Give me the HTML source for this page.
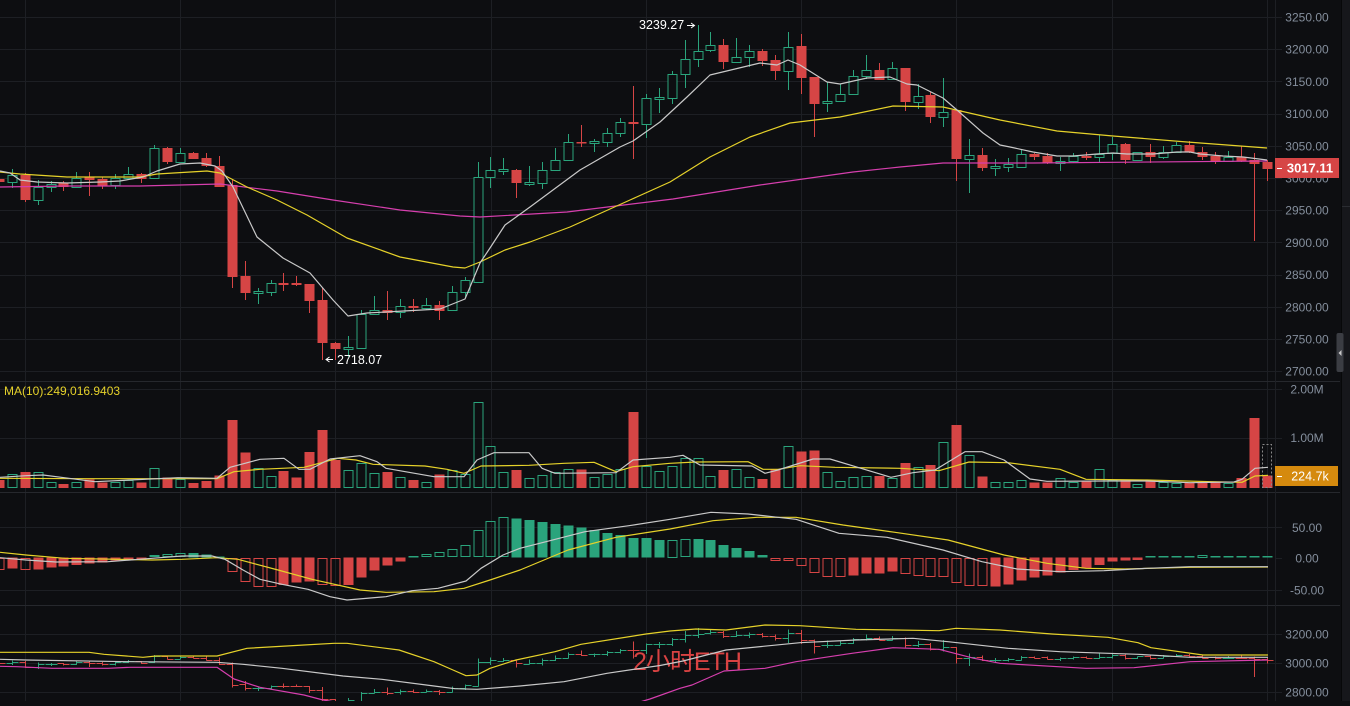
<!DOCTYPE html>
<html><head><meta charset="utf-8">
<style>
html,body{margin:0;padding:0;background:#0d0e11;width:1350px;height:701px;overflow:hidden}
#c{position:absolute;left:0;top:0;width:1350px;height:701px}
</style></head>
<body><div id="c"></div>
<script>
const S=12.94, X0=11.7, G='#2aa47c', R='#d64545', BG='#0d0e11', GRID='#1d1f24', AX='#848e9c';
const K=[
[0,179,182,177,184],[1,175,181.7,169,188],[0,175,200,173,202],[1,187,200,180,205],[1,184,187,181,192],
[0,183,187,181,191],[1,178,187,172,188],[0,177,180,172,196],[0,179,186,177,189],[1,178,185,174,189],
[1,174,178,167,180],[0,174,179,173,183],[1,148,178,145,179],[0,148,162,147,164],[1,153,162,148,162],
[0,153,159,152,159],[0,158,166,153,167],[0,166,187,156,187],[0,185,277,179,288],[0,276,293,261,300],
[1,291,292.5,288,304],[1,283,292,280,296],[0,283,285,273,291],[0,283,285,276,286],[0,284,301,284,313],
[0,300,343,288,360],[0,343,349,342,360],[1,347,349,336,357],[1,314,348,310,348],[1,310,314,296,314],
[0,310,313,291,320],[1,306,312,299,318],[0,306,308,299,312],[1,305,308,298,310],[0,305,311,301,320],
[1,292,310,286,310],[1,280,292,277,298],[1,177,282,162,283],[1,170,177,157,188],[1,169,170.5,158,175],
[0,170,183,169,198],[1,182,184,166,186],[1,170,183,162,189],[1,160,170,148,170],[1,142,160,134,160],
[0,142,143.5,125,147],[1,141,143,139,152],[1,133,142,128,147],[1,122,133,118,137],[0,122,124,86,159],
[1,98,124,94,138],[1,97,99,88,113],[1,74,98,71,104],[1,59,74,40,88],[1,51,59,25,67],
[1,45,50,32,52],[0,45,62,39,69],[1,57,62,38,63],[1,51,57,45,67],[0,51,61,49,66],
[0,60,71,55,80],[1,47,71,32,90],[0,46,78,34,94],[0,77,104,77,137],[1,101,103,82,112],
[1,94,101,84,101],[1,76,94,70,94],[1,70,76,55,79],[0,70,80,63,80],[1,68,79,62,79],
[0,68,102,68,111],[1,96,102,84,109],[0,95,117,92,123],[1,112,117,78,127],[0,110,159,110,181],
[1,155,159,139,193],[0,155,168,148,171],[1,166,167.5,159,176],[1,164,167,158,172],[1,154,167,150,168],
[0,154,157,153,160],[0,156,163,153,164],[1,161,163,157,171],[1,156,161,153,163],[0,156,158,152,160],
[1,154,157,135,162],[1,144,153,137,160],[0,144,160,143,164],[1,152,160,152,161],[0,152,157,144,163],
[1,152,157,146,159],[1,145,152,142,153],[0,145,152,141,153],[0,152,157,147,160],[0,156,161,152,164],
[1,157,161,151,161],[0,157,161,146,162],[0,160,164,153,241],[0,162,169,160,181]
];
const V=[480,474.3,472,472.3,482.3,484,482.3,479.3,482.3,482.3,480,482.3,468.3,477.7,479.3,483,481,475.3,420,452.7,468.3,476.3,471,477.3,452,430,460,470,463.3,473.3,472,476.7,480,481.7,474.3,470,474.3,402.3,446.3,472.3,470,478.3,475.3,471.7,469.3,469.3,477.3,474.3,469.3,412,466,471,466,458.3,458.3,476.3,470,469.3,477.3,479,469.3,446.3,451.7,450.3,472.3,481,477.3,476.3,476,478.3,463,467.3,465,442.3,425,455.3,476.3,482.3,482.3,480,482.7,482.3,478.3,482.3,481.7,469.3,480,480,484.3,480,482.3,483,482.3,482.3,482.3,483,478,418,475.7];
const M=[[569.3,1],[568.7,0],[569.3,1],[569.7,0],[567.7,0],[566.7,0],[565,0],[563.3,0],[562.3,0],[560.7,0],[560.7,0],[560,0],[555.3,1],[554.3,1],[553.3,1],[553,0],[554.3,0],[556.5,0],[571.7,1],[581.3,1],[586.7,1],[586.7,1],[585,0],[582.7,0],[581.7,0],[584.7,1],[586,1],[585,0],[577.7,0],[570.7,0],[565.7,0],[561.7,0],[556,0],[554.3,1],[552.3,1],[549.3,1],[545.3,1],[530.3,1],[521.3,1],[517.3,1],[518.3,0],[520,0],[522,0],[524,0],[525.3,0],[527.3,0],[530,0],[533,0],[535,0],[538,0],[538,0],[540,0],[540,1],[539.3,1],[539,0],[540,0],[545,0],[548,0],[551,0],[555,0],[560.3,1],[560.3,1],[565.3,1],[572.3,1],[576.3,1],[577,1],[575.7,0],[573.7,0],[573.3,0],[571.7,0],[574,1],[576,1],[577,1],[577,1],[583,1],[585.3,1],[586,1],[586.7,0],[584.7,0],[580.3,0],[577.7,0],[575.7,0],[572.7,0],[570,0],[568.3,0],[565,0],[561.7,0],[560.7,0],[560,0],[556,0],[555.8,0],[555.8,0],[555.8,0],[555,1],[555.8,0],[555.8,0],[555.8,0],[555.8,0],[556,0]];

function L(x1,y1,x2,y2,c,w,extra){return `<line x1="${x1}" y1="${y1}" x2="${x2}" y2="${y2}" stroke="${c}" stroke-width="${w||1}" ${extra||''}/>`;}
function P(pts,c,w){return `<polyline points="${pts}" fill="none" stroke="${c}" stroke-width="${w||1}" stroke-linejoin="round"/>`;}
function T(x,y,t,c,sz,anchor,weight){return `<text x="${x}" y="${y}" fill="${c}" font-size="${sz||12}" text-anchor="${anchor||'middle'}" font-weight="${weight||'normal'}">${t}</text>`;}

let s='<svg width="1350" height="701" viewBox="0 0 1350 701" font-family="Liberation Sans, sans-serif">';
s+=`<rect width="1350" height="701" fill="${BG}"/>`;
// vertical grid
for(let k=0;k<9;k++){const x=Math.round(24.6+155.3*k)+0.5; s+=L(x,0,x,701,GRID);}
// main horizontal grid + labels
for(let p=3250,n=0;p>=2700;p-=50,n++){const y=17+(3250-p)*0.644; const yy=Math.round(y)+0.5; s+=L(0,yy,1282,yy,GRID); s+=T(1307,y+4.5,p.toFixed(2),AX,12);}
// volume grid
[[389,'2.00M'],[437.5,'1.00M']].forEach(a=>{const yy=Math.round(a[0])+0.5; s+=L(0,yy,1282,yy,GRID); s+=T(1307,a[0]+4.5,a[1],AX,12);});
// macd grid
[[527.3,'50.00'],[558,'0.00'],[590,'-50.00']].forEach((a,i)=>{const yy=Math.round(a[0])+0.5; if(i!==1) s+=L(0,yy,1282,yy,GRID); else s+=L(1275,yy,1282,yy,GRID); s+=T(1307,a[0]+4.5,a[1],AX,12);});
// bottom grid
[[634.3,'3200.00'],[663.3,'3000.00'],[692.3,'2800.00']].forEach(a=>{const yy=Math.round(a[0])+0.5; s+=L(0,yy,1282,yy,GRID); s+=T(1307,a[0]+4,a[1],AX,12);});
// separators
[381.5,492.5,605.5].forEach(y=>{s+=L(0,y,1340,y,'#26282d');});
// axis border
s+=L(1275.5,0,1275.5,701,GRID);

// candles
s+='<g shape-rendering="crispEdges">';
K.forEach((k,j)=>{const i=j-1, x=X0+S*i, xx=Math.round(x)+0.5, col=k[0]?G:R;
  s+=L(xx,k[3],xx,k[4],col);
  if(k[0]) s+=`<rect x="${xx-4.5}" y="${Math.round(k[1])+0.5}" width="9" height="${Math.max(Math.round(k[2]-k[1]),1)}" fill="${BG}" stroke="${col}"/>`;
  else s+=`<rect x="${xx-5}" y="${k[1]}" width="10" height="${Math.max(k[2]-k[1],1.5)}" fill="${col}"/>`;
});
// volume
V.forEach((v,j)=>{const i=j-1, xx=Math.round(X0+S*i)+0.5, g=K[j][0];
  if(g) s+=`<rect x="${xx-4.5}" y="${Math.round(v)+0.5}" width="9" height="${Math.max(487.5-Math.round(v)-0.5,1)}" fill="none" stroke="${G}"/>`;
  else s+=`<rect x="${xx-5}" y="${v}" width="10" height="${488-v}" fill="${R}"/>`;
});
// dashed placeholder
s+=`<rect x="1262.5" y="444.5" width="9" height="43" fill="none" stroke="#8a8a8a" stroke-dasharray="2,2"/>`;
// macd hist
const Z=557.7;
M.forEach((m,j)=>{const i=j-1, xx=Math.round(X0+S*i)+0.5, y=m[0], col=y>Z?R:G;
  const top=Math.min(y,Z), h=Math.max(Math.abs(y-Z),1.5);
  if(m[1]) s+=`<rect x="${xx-4.5}" y="${Math.round(top)+0.5}" width="9" height="${Math.max(Math.round(h)-1,1)}" fill="none" stroke="${col}"/>`;
  else s+=`<rect x="${xx-5}" y="${top}" width="10" height="${h}" fill="${col}"/>`;
});
// bottom OHLC
const B=y=>622.2+0.2252*y;
K.forEach((k,j)=>{const i=j-1, x=X0+S*i, xx=Math.round(x)+0.5, col=k[0]?G:R;
  const o=k[0]?k[2]:k[1], c=k[0]?k[1]:k[2];
  s+=L(xx,B(k[3]).toFixed(1),xx,(B(k[4])+0.5).toFixed(1),col);
  const yo=Math.round(B(o))+0.5, yc=Math.round(B(c))+0.5;
  s+=L(xx-6,yo,xx,yo,col); s+=L(xx,yc,xx+6,yc,col);
});
s+='</g>';

// watermark
s+=`<text x="633" y="670" fill="#f04848" font-size="25" letter-spacing="-1" font-family="Liberation Sans, Noto Sans CJK SC, sans-serif" opacity="0.9">2小时ETH</text>`;

// main MAs
s+=P("0,187 67,186 140,186 220,184 277,191 333,200 400,210 460,216 480,217 567,212 673,199 760,185 853,172 900,167 943,163 1033,163 1267,161","#d63fae",1.2);
s+=P("0,172 20,174 67,177 140,177 157,174 207,171 220,173 247,187 277,200 307,215 347,238 400,257 453,267 465,268 480,262 505,250 530,242 570,227 630,200 670,182 710,157 750,137 790,123 840,117 893,106 943,107 1000,120 1057,131 1113,136 1187,142 1267,148","#e6d22a",1.2);
s+=P("0,171 10,173 20,180 37,182 67,183 100,182 120,181 143,177 157,171 180,164 200,163 215,166 222,171 233,187 257,237 283,258 310,273 333,300 348,316 367,313 440,309 465,299 480,263 490,248 505,225 530,207 557,187 580,170 620,147 633,141 660,122 687,97 710,75 760,63 777,65 788,60 800,65 827,82 840,84 867,78 890,77 907,84 917,85 943,98 957,110 983,133 1000,145 1010,147 1033,152 1057,156 1073,156 1097,154 1113,153 1127,154 1153,154 1177,152 1190,152 1200,154 1223,156 1243,157 1267,160","#c9c9c9",1.2);
// volume MAs
s+=P("0,478.3 87,478.7 217,478.7 234,471.7 260,469.3 304,467.3 338,458.3 356,460 373,464.3 425,466 447,469.3 464,473.3 481,466 529,465.3 564,463.3 594,462.3 616,471.7 633,466.7 670,463.3 696,462 748,461.7 763,469.3 778,469.3 800,465.7 835,467.3 900,468.3 939,470.7 969,462 1008,462.7 1060,469.3 1086,479.3 1147,480 1212,481.7 1242,482.3 1255,476 1268,475.3","#e6d22a",1.2);
s+=P("0,477.3 26,475.7 43,475 69,478.3 95,481.7 130,480 178,477.7 217,478.3 230,467.3 260,459.3 284,458.3 299,469.3 310,469.3 330,459 360,455.7 377,461.7 386,468.3 434,476.7 464,476.7 477,460 494,452.7 529,452.7 542,468.3 555,473.3 616,472.7 633,460 670,457.3 683,455.3 700,465 752,466 765,473.3 778,470 813,459 830,459 861,468.3 891,477.3 913,472.7 935,470 965,451.7 982,451.7 1004,460 1030,479 1047,481.3 1104,481 1147,481 1190,482.7 1234,482 1242,479.3 1255,468.3 1268,467.3","#c9c9c9",1.2);
// macd lines
s+=P("0,552.3 26,555 65,558.3 152,560 182,559.3 217,557.7 238,559.3 278,570 312,579.3 360,590 386,592.3 434,591.7 464,588.3 490,580 520,570 568,550 616,537.3 670,529 713,520.7 757,517.3 796,517.3 843,525 895,532.3 948,540 1004,555 1047,563.3 1086,568.3 1125,569 1190,567.3 1268,567","#e6d22a",1.2);
s+=P("0,557.7 26,560 56,562 108,561.7 152,558.3 182,556 212,556 225,559.3 243,570 260,579.3 282,584.3 308,589.3 330,596.7 347,600 386,596.7 412,590.7 438,588.3 466,581 481,568.3 503,555 520,548.3 546,541.7 585,531.7 629,525.7 670,519.3 711,512.3 748,514 778,517.3 796,519.3 839,533.3 887,537.3 943,550 982,561.7 1017,569 1060,571.7 1104,570.7 1147,568.3 1190,566.7 1268,566.7","#c9c9c9",1.2);
// bottom bands
s+=P("0,652.3 89,652.3 104,654.3 143,657.3 156,656 217,656 247,648.3 304,645 334,643.3 347,643.3 399,650 434,661.7 453,670 466,675.7 477,675 490,668.3 516,660 555,651.7 581,644.3 646,634 670,631 696,629 726,630 765,625 800,625.7 856,629.3 939,630.7 956,628.3 1000,630 1052,634 1108,637.3 1138,642.7 1151,647.7 1203,655 1268,655","#e6d22a",1.2);
s+=P("0,659.3 26,660 130,661.7 217,662.3 243,664.3 282,668.3 343,676 382,679.3 434,686 455,688.7 477,689.3 520,686 564,681.7 607,673.3 660,665.5 683,661 726,650 800,642.7 856,640 913,638.3 948,641.7 1008,648.3 1060,651.7 1138,654.3 1190,657.3 1268,657.3","#c9c9c9",1.2);
s+=P("0,666.3 17,666.7 52,668.3 108,668.3 130,667.3 217,667.3 234,679 260,687.3 304,695 323,700 347,704 633,704 650,699 680,688.3 692,685 724,671 765,668.3 796,661.7 852,653.3 893,647.7 939,649.3 974,658.3 1000,663.3 1086,668.3 1134,667.7 1190,661.7 1268,660","#d63fae",1.2);

// annotations
s+=T(639,29,'3239.27','#ffffff',12.5,'start');
s+=L(687,25.5,694,25.5,'#ffffff');
s+=`<path d="M691,23 L694.5,25.5 L691,28" fill="none" stroke="#ffffff" stroke-width="1"/>`;
s+=L(326,359.5,333,359.5,'#ffffff');
s+=`<path d="M329.5,357 L326,359.5 L329.5,362" fill="none" stroke="#ffffff" stroke-width="1"/>`;
s+=T(337,364,'2718.07','#ffffff',12.5,'start');
s+=T(4,395,'MA(10):249,016.9403','#e6d22a',12,'start');

// price label
s+=`<rect x="1275" y="158" width="64" height="20" fill="#d64545"/>`;
s+=L(1277,168.5,1282,168.5,'#ffffff');
s+=T(1310,172.5,'3017.11','#ffffff',13,'middle','bold');
// volume label
s+=`<rect x="1275" y="466" width="63" height="20" fill="#d58a0e"/>`;
s+=L(1277,476.5,1282,476.5,'#ffffff');
s+=T(1310,480.5,'224.7k','#ffffff',12.5,'middle');

// right strip
s+=`<rect x="1341" y="0" width="9" height="701" fill="#16171b"/>`;
s+=L(1341.5,0,1341.5,701,'#070809');
s+=L(1342,206.5,1350,206.5,'#2a2c31');
s+=`<rect x="1336.5" y="333" width="7" height="39" rx="2" fill="#3b3d43"/>`;
s+=`<path d="M1338.5,353 L1341.5,350 L1341.5,356 Z" fill="#c8c8c8"/>`;
s+='</svg>';
document.getElementById('c').innerHTML=s;
</script>
</body></html>
